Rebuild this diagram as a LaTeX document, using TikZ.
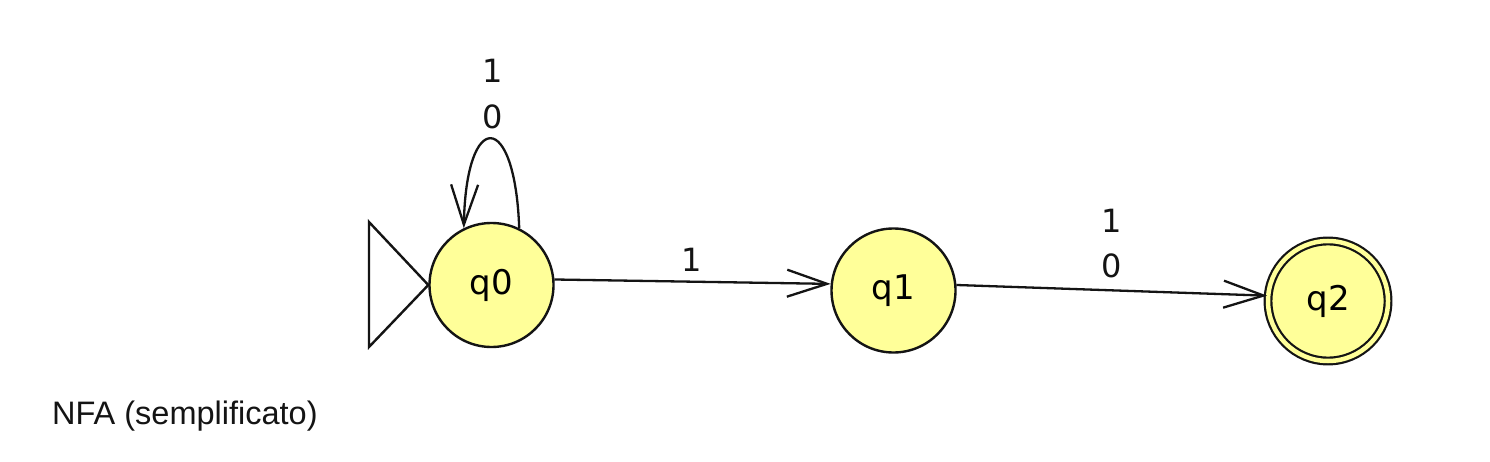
\documentclass[tikz,border=0pt]{standalone}
\usepackage{fontspec}
\setmainfont{DejaVu Sans}
\newfontfamily\capfont{Liberation Sans}
\usetikzlibrary{arrows.meta}
\definecolor{statefill}{RGB}{255,255,153}
\definecolor{ink}{RGB}{20,20,20}
\tikzset{
  state/.style={circle,draw=ink,line width=2.4pt,fill=statefill,inner sep=0pt,minimum size=124pt,font=\fontsize{34}{38}\selectfont},
  accepting/.style={double=statefill,double distance=4.5pt,line width=2.2pt,minimum size=120pt},
  trans/.style={draw=ink,line width=2.3pt,-{Straight Barb[length=40pt,width=27pt,line width=2.3pt]}},
  lbl/.style={font=\fontsize{32}{35}\selectfont,text=ink,inner sep=0pt},
  startmark/.style={draw=ink,line width=2.4pt,line join=miter}
}
\begin{document}
\begin{tikzpicture}[x=1pt,y=-1pt]
\useasboundingbox[fill=white] (0,0) rectangle (1490,462);
\node[state] (q0) at (491.5,285) {q0};
\node[state] (q1) at (893.5,290.5) {q1};
\node[state,accepting] (q2) at (1328,301) {q2};
% start marker
\coordinate (s1) at (369,222);
\coordinate (s2) at (369,347);
\draw[startmark] (s1) -- (q0.west) -- (s2) -- cycle;
% self loop
\draw[trans] (q0.64) .. controls (515,109) and (466,109) .. (q0.116);
\node[lbl] (l00a) at (493,71) {1};
\node[lbl] (l00b) at (493,117) {0};
% q0 -> q1
\draw[trans] (q0.5.5) -- (q1.174);
\node[lbl] (l01) at (692,260) {1};
% q1 -> q2
\draw[trans] (q1.5) -- (q2.175);
\node[lbl] (l12a) at (1112,221) {1};
\node[lbl] (l12b) at (1112,266) {0};
% caption
\node[anchor=base west,inner sep=0pt,font=\capfont\fontsize{32.5}{36}\selectfont,text=ink] (cap) at (52,424) {NFA (semplificato)};
\end{tikzpicture}
\end{document}
